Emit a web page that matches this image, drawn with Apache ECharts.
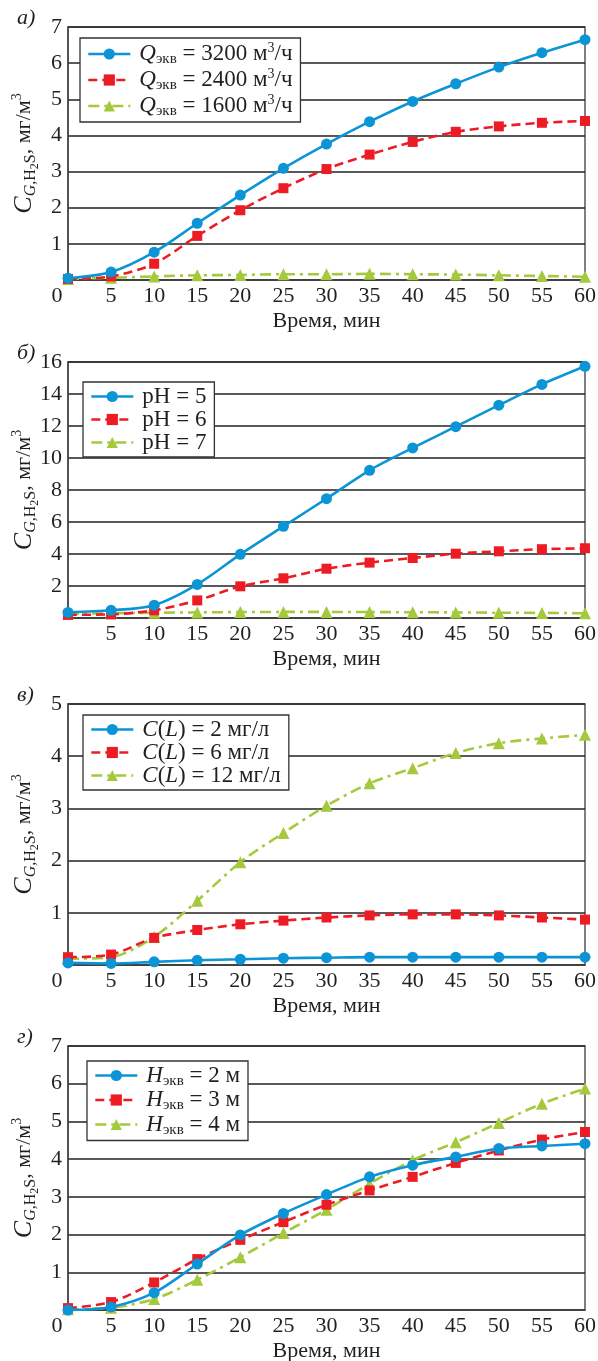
<!DOCTYPE html>
<html>
<head>
<meta charset="utf-8">
<script src="https://cdn.jsdelivr.net/npm/echarts@6/dist/echarts.min.js"></script>
<style>
  html, body { margin: 0; padding: 0; background: #fff; }
  #chart { width: 598px; height: 1361px; }
</style>
</head>
<body>
<div id="chart"></div>
<script>
// time axis, min
const times = [0, 5, 10, 15, 20, 25, 30, 35, 40, 45, 50, 55, 60];

// panel a) — flow rate
const q3200 = [0.05, 0.22, 0.77, 1.57, 2.35, 3.09, 3.76, 4.38, 4.94, 5.43, 5.89, 6.29, 6.65];
const q2400 = [0.03, 0.10, 0.45, 1.22, 1.93, 2.54, 3.07, 3.47, 3.82, 4.10, 4.25, 4.35, 4.40];
const q1600 = [0.03, 0.06, 0.10, 0.13, 0.14, 0.16, 0.16, 0.17, 0.16, 0.15, 0.13, 0.11, 0.09];

// panel б) — pH
const ph5 = [0.35, 0.48, 0.80, 2.10, 3.98, 5.73, 7.46, 9.23, 10.63, 11.96, 13.30, 14.60, 15.73];
const ph6 = [0.20, 0.23, 0.48, 1.10, 1.98, 2.48, 3.08, 3.46, 3.75, 4.02, 4.17, 4.30, 4.36];
const ph7 = [0.25, 0.30, 0.33, 0.35, 0.37, 0.38, 0.38, 0.37, 0.36, 0.35, 0.33, 0.32, 0.30];

// panel в) — C(L)
const cl2 = [0.04, 0.03, 0.06, 0.09, 0.11, 0.13, 0.14, 0.15, 0.15, 0.15, 0.15, 0.15, 0.15];
const cl6 = [0.15, 0.20, 0.52, 0.67, 0.78, 0.85, 0.91, 0.95, 0.97, 0.97, 0.95, 0.91, 0.87];
const cl12 = [0.12, 0.15, 0.54, 1.23, 1.97, 2.53, 3.05, 3.48, 3.77, 4.06, 4.25, 4.34, 4.41];

// panel г) — height
const h2 = [0.00, 0.08, 0.46, 1.22, 1.99, 2.56, 3.06, 3.53, 3.84, 4.06, 4.28, 4.35, 4.41];
const h3 = [0.05, 0.21, 0.73, 1.35, 1.86, 2.33, 2.79, 3.17, 3.53, 3.90, 4.23, 4.52, 4.72];
const h4 = [0.02, 0.06, 0.29, 0.80, 1.40, 2.04, 2.66, 3.35, 3.97, 4.45, 4.96, 5.47, 5.87];

const panelTags = ['а)', 'б)', 'в)', 'г)'];
const yMax = [7, 16, 5, 7];
const yStep = [1, 2, 1, 1];
const names = [
  ['Qэкв = 3200 м3/ч', 'Qэкв = 2400 м3/ч', 'Qэкв = 1600 м3/ч'],
  ['pH = 5', 'pH = 6', 'pH = 7'],
  ['C(L) = 2 мг/л', 'C(L) = 6 мг/л', 'C(L) = 12 мг/л'],
  ['Hэкв = 2 м', 'Hэкв = 3 м', 'Hэкв = 4 м']
];
const values = [
  [q3200, q2400, q1600],
  [ph5, ph6, ph7],
  [cl2, cl6, cl12],
  [h2, h3, h4]
];

// rich-text versions of the legend names
const richNames = {
  'Qэкв = 3200 м3/ч': '{w|}{i|Q}{s|экв}{n| = 3200 м}{p|3}{n|/ч}',
  'Qэкв = 2400 м3/ч': '{w|}{i|Q}{s|экв}{n| = 2400 м}{p|3}{n|/ч}',
  'Qэкв = 1600 м3/ч': '{w|}{i|Q}{s|экв}{n| = 1600 м}{p|3}{n|/ч}',
  'pH = 5': '{w|}{n|pH = 5}',
  'pH = 6': '{w|}{n|pH = 6}',
  'pH = 7': '{w|}{n|pH = 7}',
  'C(L) = 2 мг/л': '{w|}{i|C}{n|(}{i|L}{n|) = 2 мг/л}',
  'C(L) = 6 мг/л': '{w|}{i|C}{n|(}{i|L}{n|) = 6 мг/л}',
  'C(L) = 12 мг/л': '{w|}{i|C}{n|(}{i|L}{n|) = 12 мг/л}',
  'Hэкв = 2 м': '{w|}{i|H}{s|экв}{n| = 2 м}',
  'Hэкв = 3 м': '{w|}{i|H}{s|экв}{n| = 3 м}',
  'Hэкв = 4 м': '{w|}{i|H}{s|экв}{n| = 4 м}'
};

const FONT = 'Liberation Serif';
const INK = '#231f20';
const colors = ['#0b94d6', '#ed1c24', '#a5c93c'];
const dashes = ['solid', [9, 5], [11, 5, 3, 5]];
const symbols = ['circle', 'rect', 'triangle'];
const symSizes = [11, 10, 12];

// plot rectangles (px): top, height
const tops = [27, 362, 704, 1046];
const heights = [253, 256, 261, 264];
const legendBox = [
  { left: 80, top: 38 },
  { left: 83, top: 382 },
  { left: 83, top: 715 },
  { left: 87, top: 1061 }
];
const showZero = [true, false, true, true];

const richStyle = {
  w: { width: 4 },
  n: { fontFamily: FONT, fontSize: 23, color: INK },
  i: { fontFamily: FONT, fontSize: 23, fontStyle: 'italic', color: INK },
  s: { fontFamily: FONT, fontSize: 15, color: INK, padding: [11, 0, 0, 0] },
  p: { fontFamily: FONT, fontSize: 14, color: INK, padding: [0, 0, 12, 0] }
};

const yNameRich = {
  c: { fontFamily: FONT, fontSize: 26, fontStyle: 'italic', color: INK },
  g: { fontFamily: FONT, fontSize: 16, fontStyle: 'italic', color: INK, padding: [13, 0, 0, 0] },
  s: { fontFamily: FONT, fontSize: 16, color: INK, padding: [13, 0, 0, 0] },
  ss: { fontFamily: FONT, fontSize: 12, color: INK, padding: [22, 0, 0, 0] },
  n: { fontFamily: FONT, fontSize: 22, color: INK },
  p: { fontFamily: FONT, fontSize: 14, color: INK, padding: [0, 0, 13, 0] }
};
const yName = '{c|C}{g|G}{s|,H}{ss|2}{s|S}{n|, мг/м}{p|3}';

const option = {
  backgroundColor: '#fff',
  animation: false,
  title: [],
  legend: [],
  grid: [],
  xAxis: [],
  yAxis: [],
  series: []
};

for (let k = 0; k < 4; k++) {
  option.title.push({
    text: panelTags[k],
    left: 12,
    top: tops[k] - 25,
    textStyle: { fontFamily: FONT, fontStyle: 'italic', fontWeight: 'normal', fontSize: 22, color: INK }
  });
  option.grid.push({
    left: 68, right: 13, top: tops[k], height: heights[k],
    containLabel: false, outerBoundsMode: 'none',
    show: true, borderColor: '#555', borderWidth: 1.5, backgroundColor: 'transparent'
  });
  option.xAxis.push({
    type: 'value', gridIndex: k, min: 0, max: 60, interval: 5,
    name: 'Время, мин', nameLocation: 'middle', nameGap: 30,
    nameMoveOverlap: false,
    nameTextStyle: { fontFamily: FONT, fontSize: 22, color: INK },
    axisLine: { show: true, lineStyle: { color: '#444', width: 1.5 } },
    axisTick: { show: false },
    splitLine: { show: false },
    axisLabel: {
      fontFamily: FONT, fontSize: 22, color: INK, margin: 5,
      formatter: (v) => v === 0 ? (showZero[k] ? '{z|0}' : '') : String(v),
      rich: { z: { fontFamily: FONT, fontSize: 22, color: INK, padding: [0, 22, 0, 0] } }
    }
  });
  option.yAxis.push({
    type: 'value', gridIndex: k, min: 0, max: yMax[k], interval: yStep[k],
    name: yName, nameLocation: 'middle', nameGap: 27, nameRotate: 90,
    nameMoveOverlap: false,
    nameTextStyle: { rich: yNameRich },
    axisLine: { show: true, lineStyle: { color: '#444', width: 1.5 } },
    axisTick: { show: false },
    splitLine: { show: true, lineStyle: { color: '#222', width: 1.6 } },
    axisLabel: {
      fontFamily: FONT, fontSize: 22, color: INK, margin: 6,
      formatter: (v) => v === 0 ? '' : String(v)
    }
  });
  option.legend.push({
    data: names[k],
    orient: 'vertical',
    left: legendBox[k].left,
    top: legendBox[k].top,
    backgroundColor: '#fff',
    borderColor: '#333',
    borderWidth: 1.3,
    borderRadius: 0,
    padding: [3, 8, 3, 7],
    itemGap: 0,
    itemWidth: 42,
    itemHeight: 14,
    selectedMode: false,
    lineStyle: { width: 2.6 },
    formatter: (name) => richNames[name],
    textStyle: { fontFamily: FONT, fontSize: 23, color: INK, rich: richStyle }
  });
  for (let j = 0; j < 3; j++) {
    option.series.push({
      name: names[k][j],
      type: 'line',
      xAxisIndex: k, yAxisIndex: k,
      data: times.map((t, i) => [t, values[k][j][i]]),
      smooth: 0.3,
      symbol: symbols[j],
      symbolSize: symSizes[j],
      showAllSymbol: true,
      z: 10 - j,
      lineStyle: { color: colors[j], width: 2.6, type: dashes[j] },
      itemStyle: { color: colors[j] }
    });
  }
}

const chart = echarts.init(document.getElementById('chart'), null, { renderer: 'canvas' });
chart.setOption(option);
</script>
</body>
</html>
